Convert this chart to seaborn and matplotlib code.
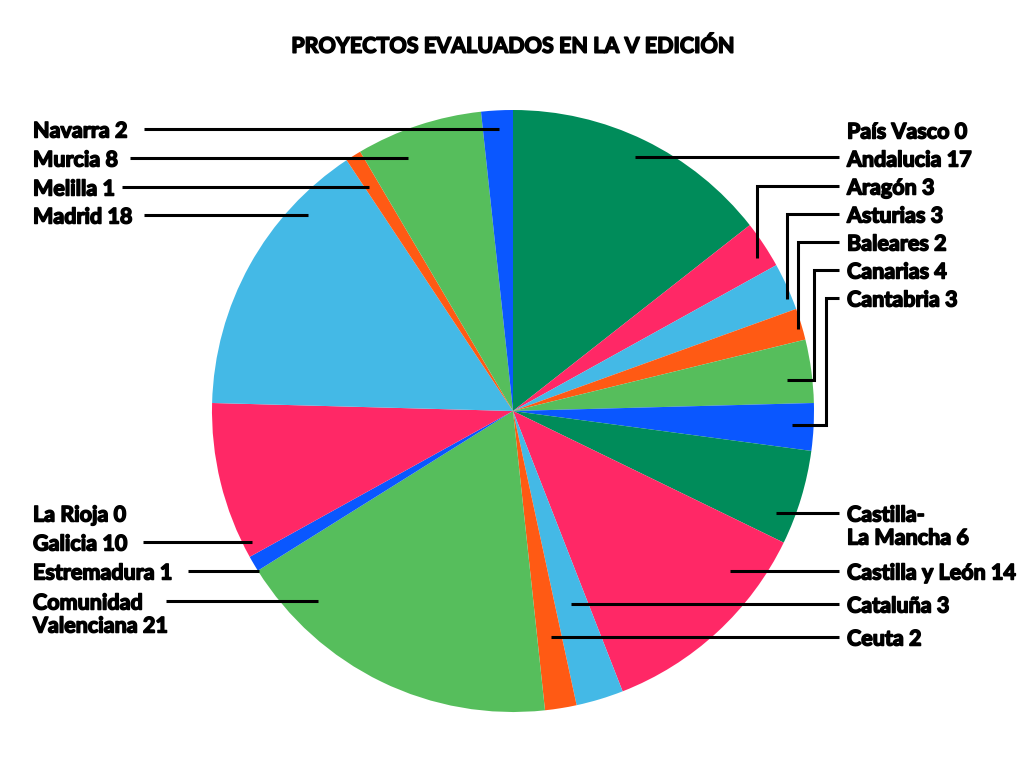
import matplotlib
matplotlib.use("Agg")
import matplotlib.pyplot as plt
import matplotlib.patheffects as pe
import seaborn as sns

# ---- data (pie order, clockwise from 12 o'clock) ----
regions = ["País Vasco", "Andalucia", "Aragón", "Asturias", "Baleares", "Canarias",
           "Cantabria", "Castilla-\nLa Mancha", "Castilla y León", "Cataluña", "Ceuta",
           "Comunidad\nValenciana", "Estremadura", "Galicia", "La Rioja", "Madrid",
           "Melilla", "Murcia", "Navarra"]
values = [0, 17, 3, 3, 2, 4, 3, 6, 14, 3, 2, 21, 1, 10, 0, 18, 1, 8, 2]
slice_colors = ["#008C5A", "#008C5A", "#FF2866", "#44B9E6", "#FF5A14", "#56BE5C",
                "#0A57FF", "#008C5A", "#FF2866", "#44B9E6", "#FF5A14", "#56BE5C",
                "#0A57FF", "#FF2866", "#008C5A", "#44B9E6", "#FF5A14", "#56BE5C",
                "#0A57FF"]
title = "PROYECTOS EVALUADOS EN LA V EDICIÓN"

# ---- layout (pixel coords, y down) ----
W, H = 1024, 770
CX, CY, R = 513, 411, 301
layout = {
    "País Vasco": (847, 130, "left", None),
    "Andalucia": (847, 158, "left", [(839, 157), (635, 157)]),
    "Aragón": (847, 186, "left", [(839, 186), (757, 186), (757, 258)]),
    "Asturias": (847, 214, "left", [(839, 214), (787, 214), (787, 299)]),
    "Baleares": (847, 242, "left", [(839, 242), (798, 242), (798, 329)]),
    "Canarias": (847, 270, "left", [(839, 270), (814, 270), (814, 380), (787, 380)]),
    "Cantabria": (847, 298, "left", [(839, 298), (826, 298), (826, 425), (792, 425)]),
    "Castilla-\nLa Mancha": (847, 513, "left", [(839, 513), (776, 513)]),
    "Castilla y León": (847, 571, "left", [(839, 571), (730, 571)]),
    "Cataluña": (847, 604, "left", [(839, 604), (571, 604)]),
    "Ceuta": (847, 637, "left", [(839, 637), (551, 637)]),
    "Navarra": (33, 129, "left", [(144, 129), (499, 129)]),
    "Murcia": (33, 158, "left", [(130, 158), (408, 158)]),
    "Melilla": (33, 187, "left", [(122, 187), (369, 187)]),
    "Madrid": (33, 215, "left", [(144, 215), (308, 215)]),
    "La Rioja": (33, 513, "left", None),
    "Galicia": (33, 542, "left", [(143, 542), (252, 542)]),
    "Estremadura": (33, 571, "left", [(188, 571), (259, 571)]),
    "Comunidad\nValenciana": (33, 601, "left", [(166, 601), (318, 601)]),
}

sns.set_theme(style="white")
plt.rcParams["font.family"] = ["Lato", "DejaVu Sans"]

fig = plt.figure(figsize=(W / 100, H / 100), dpi=100)
ax = fig.add_axes([0, 0, 1, 1])

ax.pie(values, colors=slice_colors, startangle=90, counterclock=False,
       center=(CX, H - CY), radius=R, wedgeprops=dict(linewidth=0))
ax.set_xlim(0, W)
ax.set_ylim(0, H)
ax.set_aspect("equal")
ax.axis("off")

heavy = [pe.withStroke(linewidth=1.1, foreground="black")]
fs = 15.5
for name, val in zip(regions, values):
    tx, ty, ha, path = layout[name]
    lines = f"{name} {val}".split("\n")
    for i, ln in enumerate(lines):
        ax.text(tx, H - (ty + 2 + i * 23), ln, ha=ha, va="center", fontsize=fs,
                fontweight="bold", color="black", path_effects=heavy)
    if path:
        xs = [p[0] for p in path]
        ys = [H - p[1] for p in path]
        ax.plot(xs, ys, color="black", lw=2.2, solid_capstyle="butt",
                solid_joinstyle="miter")

ax.text(W / 2 + 1, H - 46, title, ha="center", va="center", fontsize=15.5,
        fontweight="bold", color="black", path_effects=heavy)

fig.savefig("out.png", dpi=100)
